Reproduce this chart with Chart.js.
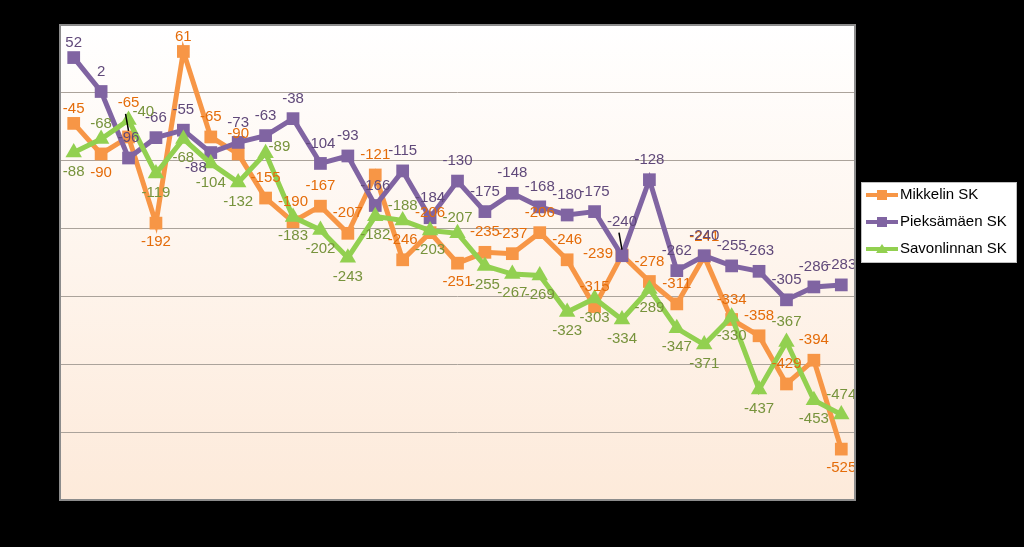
<!DOCTYPE html>
<html>
<head>
<meta charset="utf-8">
<script src="https://cdn.jsdelivr.net/npm/chart.js@4.4.0/dist/chart.umd.min.js"></script>
<style>
  html, body { margin: 0; padding: 0; background: #000; }
  #wrap { width: 1024px; height: 547px; }
</style>
</head>
<body>
<div id="wrap"><canvas id="myChart" width="1024" height="547"></canvas></div>
<script>
const categories = ['1','2','3','4','5','6','7','8','9','10','11','12','13','14','15',
  '16','17','18','19','20','21','22','23','24','25','26','27','28','29'];
const mikkeli = [-45, -90, -65, -192, 61, -65, -90, -155, -190, -167, -207, -121, -246, -206, -251,
  -235, -237, -206, -246, -315, -239, -278, -311, -241, -334, -358, -429, -394, -525];
const pieksamaki = [52, 2, -96, -66, -55, -88, -73, -63, -38, -104, -93, -166, -115, -184, -130,
  -175, -148, -168, -180, -175, -240, -128, -262, -240, -255, -263, -305, -286, -283];
const savonlinna = [-88, -68, -40, -119, -68, -104, -132, -89, -183, -202, -243, -182, -188, -203, -207,
  -255, -267, -269, -323, -303, -334, -289, -347, -371, -330, -437, -367, -453, -474];
const seriesNames = ['Mikkelin SK', 'Pieksämäen SK', 'Savonlinnan SK'];
const yTicks = { min: -600, max: 100, step: 100 };

// where each data label sits: a = above, b = below, l = left, r = right,
// lb = left-below, ra = right-above, t = above (tight), far = far above with a leader line
const placeMikkeli = ['t','b','far','b','t','a','a','a','a','a','a','a','a','a','b',
  'a','a','a','a','a','l','a','a','a','a','a','a','a','b'];
const placePieksa = ['t','a','a','a','a','lb','a','a','a','a','a','a','a','a','a',
  'a','a','a','a','a','far','a','a','a','a','a','a','a','a'];
const placeSavo = ['b','t','ra','b','b','b','b','r','b','b','b','b','t','b','t',
  'b','b','b','b','b','b','b','b','b','b','b','a','b','a'];

const lineColors = ['#F79646', '#8064A2', '#92D050'];
const labelColors = ['#E46C0A', '#60497A', '#77933C'];

const plotBg = {
  id: 'plotBg',
  beforeDraw(chart) {
    const { ctx, chartArea: a } = chart;
    ctx.save();
    ctx.fillStyle = '#000';
    ctx.fillRect(0, 0, chart.width, chart.height);
    const g = ctx.createLinearGradient(0, a.top, 0, a.bottom);
    g.addColorStop(0, '#FFFFFF');
    g.addColorStop(1, '#FDEADA');
    ctx.fillStyle = g;
    ctx.fillRect(a.left, a.top, a.right - a.left, a.bottom - a.top);
    ctx.restore();
  },
  afterDraw(chart) {
    const { ctx, chartArea: a } = chart;
    ctx.save();
    ctx.strokeStyle = '#8C8C8C';
    ctx.lineWidth = 2;
    ctx.strokeRect(a.left, a.top, a.right - a.left, a.bottom - a.top);
    ctx.restore();
  }
};

const dataLabels = {
  id: 'dataLabels',
  afterDatasetsDraw(chart) {
    const ctx = chart.ctx;
    const places = [placeMikkeli, placePieksa, placeSavo];
    ctx.save();
    ctx.font = '15px "Liberation Sans", Arial, sans-serif';
    ctx.textBaseline = 'middle';
    ctx.textAlign = 'center';
    chart.data.datasets.forEach((ds, i) => {
      const meta = chart.getDatasetMeta(i);
      meta.data.forEach((pt, j) => {
        const txt = String(ds.data[j]);
        const w = ctx.measureText(txt).width;
        const p = places[i][j];
        let x = pt.x, y = pt.y;
        if (p === 'a') { y -= 20; }
        else if (p === 't') { y -= 15; }
        else if (p === 'b') { y += 19; }
        else if (p === 'l') { x -= 9 + w / 2; y -= 1; }
        else if (p === 'r') { x += 3 + w / 2; y -= 6; }
        else if (p === 'lb') { x -= 4 + w / 2; y += 15; }
        else if (p === 'ra') { x += 4 + w / 2; y -= 8; }
        else if (p === 'far') {
          y -= 34;
          ctx.strokeStyle = '#000';
          ctx.lineWidth = 1.5;
          ctx.beginPath();
          ctx.moveTo(x - 3, y + 11);
          ctx.lineTo(pt.x, pt.y - 6);
          ctx.stroke();
        }
        ctx.fillStyle = labelColors[i];
        ctx.fillText(txt, x, y);
      });
    });
    ctx.restore();
  }
};

const boxLegend = {
  id: 'boxLegend',
  afterDraw(chart) {
    const ctx = chart.ctx;
    ctx.save();
    ctx.fillStyle = '#FFFFFF';
    ctx.fillRect(861, 182, 155, 80);
    ctx.strokeStyle = '#BFBFBF';
    ctx.lineWidth = 1;
    ctx.strokeRect(861.5, 182.5, 155, 80);
    ctx.font = '15px "Liberation Sans", Arial, sans-serif';
    ctx.textBaseline = 'middle';
    ctx.textAlign = 'left';
    seriesNames.forEach((name, i) => {
      const y = 195 + i * 27;
      ctx.strokeStyle = lineColors[i];
      ctx.lineWidth = 4;
      ctx.beginPath();
      ctx.moveTo(866, y);
      ctx.lineTo(898, y);
      ctx.stroke();
      ctx.fillStyle = lineColors[i];
      if (i === 2) {
        ctx.beginPath();
        ctx.moveTo(882, y - 5);
        ctx.lineTo(888, y + 4);
        ctx.lineTo(876, y + 4);
        ctx.closePath();
        ctx.fill();
      } else {
        ctx.fillRect(877, y - 5, 10, 10);
      }
      ctx.fillStyle = '#000';
      ctx.fillText(name, 900, y);
    });
    ctx.restore();
  }
};

const myChart = document.getElementById('myChart');
const seriesData = [mikkeli, pieksamaki, savonlinna];
const styles = ['rect', 'rect', 'triangle'];
const orders = [3, 2, 1];

new Chart(myChart, {
  type: 'line',
  data: {
    labels: categories,
    datasets: seriesData.map((d, i) => ({
      label: seriesNames[i],
      data: d,
      borderColor: lineColors[i],
      backgroundColor: lineColors[i],
      borderWidth: 5,
      pointStyle: styles[i],
      pointRadius: i === 2 ? 9.5 : 9,
      pointBorderWidth: 0,
      tension: 0,
      order: orders[i]
    }))
  },
  options: {
    responsive: false,
    animation: false,
    layout: { padding: { left: 60, right: 169, top: 25, bottom: 47 } },
    plugins: {
      legend: { display: false },
      tooltip: { enabled: false }
    },
    scales: {
      x: {
        offset: true,
        grid: { display: false, drawTicks: false },
        border: { display: false },
        ticks: { display: false }
      },
      y: {
        min: yTicks.min,
        max: yTicks.max,
        grid: { color: '#ABA39B', lineWidth: 1, drawTicks: false },
        border: { display: false },
        ticks: { display: false, stepSize: yTicks.step }
      }
    }
  },
  plugins: [plotBg, dataLabels, boxLegend]
});
</script>
</body>
</html>
